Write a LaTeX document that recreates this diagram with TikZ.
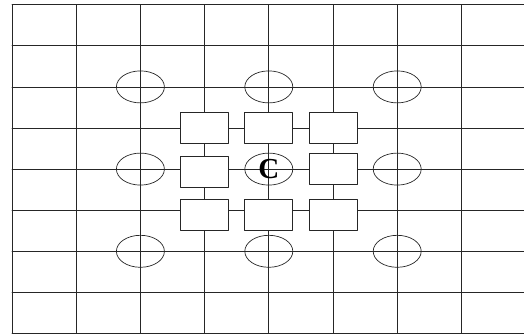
\documentclass[tikz,border=0pt]{standalone}
\usepackage{fontspec}
\setmainfont{Liberation Serif}
\usetikzlibrary{shapes.geometric}
\begin{document}
\begin{tikzpicture}[x=1pt,y=-1pt,
				line join = round,line cap = round,inner sep = 0pt,
				luoi/.style={draw = black!85, line width=0.7pt},
				hcn/.style={rectangle,draw = black!85,fill = white,line width=0.7pt, minimum width=48pt, minimum height=31pt},
				elip/.style={ellipse,draw = black!85,line width=0.7pt, minimum width=48pt, minimum height=32pt}]
				\useasboundingbox (0,0) rectangle (524,334);
				% luoi
				\foreach \i in {0,...,7}
					\draw[luoi] (12+64.2*\i,4.7) -- (12+64.2*\i,334);
				\foreach \j in {0,...,8}
					\draw[luoi] (12,4.7+41.1*\j) -- (524,4.7+41.1*\j);
				% elip
				\node at (140.4,86.9) (elipA) [elip] {};
				\node at (268.8,86.9) (elipB) [elip] {};
				\node at (397.2,86.9) (elipC) [elip] {};
				\node at (140.4,169.1) (elipD) [elip] {};
				\node at (268.8,169.1) (elipO) [elip] {\fontsize{29}{29}\selectfont\bfseries C};
				\node at (397.2,169.1) (elipE) [elip] {};
				\node at (140.4,251.3) (elipF) [elip] {};
				\node at (268.8,251.3) (elipG) [elip] {};
				\node at (397.2,251.3) (elipH) [elip] {};
				% hinh chu nhat
				\node at (204.6,128) (hcn1) [hcn] {};
				\node at (268.8,128) (hcn2) [hcn] {};
				\node at (333,128) (hcn3) [hcn] {};
				\node at (204.6,172) (hcn4) [hcn] {};
				\node at (333,169.1) (hcn5) [hcn] {};
				\node at (204.6,215) (hcn6) [hcn] {};
				\node at (268.8,215) (hcn7) [hcn] {};
				\node at (333,215) (hcn8) [hcn] {};
\end{tikzpicture}
\end{document}
